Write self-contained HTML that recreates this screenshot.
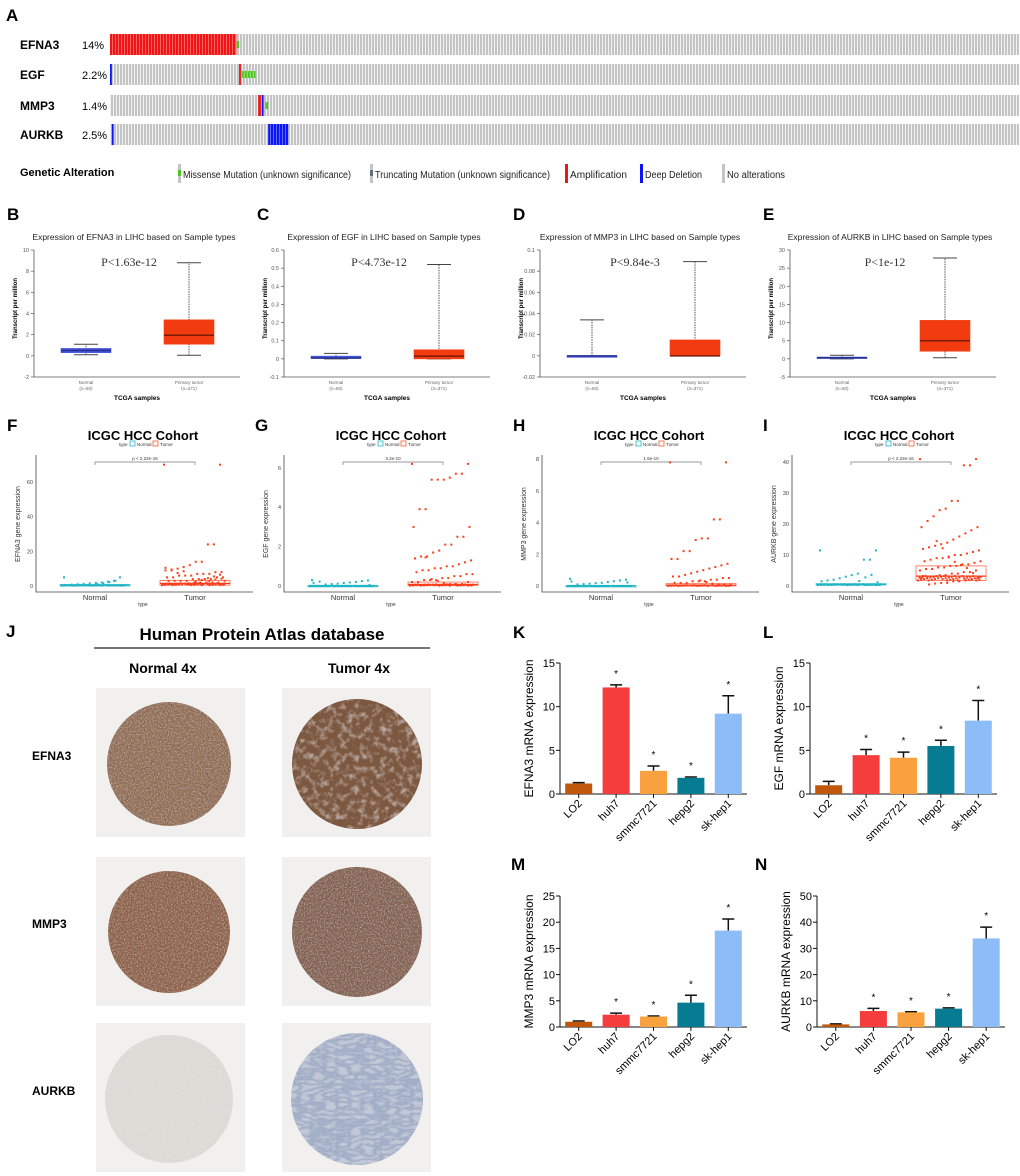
<!DOCTYPE html>
<html><head><meta charset="utf-8"><style>
html,body{margin:0;padding:0;background:#fff;}
svg{display:block;font-family:"Liberation Sans",Arial,sans-serif;}
</style></head><body>
<svg id="fig" width="1020" height="1176" viewBox="0 0 1020 1176" xmlns="http://www.w3.org/2000/svg">
<defs>
<pattern id="stripes" width="3" height="10" patternUnits="userSpaceOnUse"><rect width="2" height="10" fill="#c4c4c4"/><rect x="2" width="1" height="10" fill="#f2f2f2"/></pattern>
<filter id="tex1" x="0" y="0" width="100%" height="100%"><feTurbulence type="fractalNoise" baseFrequency="0.7" numOctaves="2" seed="3"/><feColorMatrix type="matrix" values="0 0 0 0 0.85  0 0 0 0 0.85  0 0 0 0 0.9  0 0 0 -2.2 1.3"/><feComposite in2="SourceGraphic" operator="in"/></filter>
<filter id="tex2" x="0" y="0" width="100%" height="100%"><feTurbulence type="fractalNoise" baseFrequency="0.15" numOctaves="3" seed="8"/><feColorMatrix type="matrix" values="0 0 0 0 0.80  0 0 0 0 0.80  0 0 0 0 0.84  0 0 0 -3 1.6"/><feComposite in2="SourceGraphic" operator="in"/></filter>
<filter id="tex3" x="0" y="0" width="100%" height="100%"><feTurbulence type="turbulence" baseFrequency="0.08 0.2" numOctaves="2" seed="5"/><feColorMatrix type="matrix" values="0 0 0 0 0.25  0 0 0 0 0.32  0 0 0 0 0.50  0 0 0 -3 1.4"/><feComposite in2="SourceGraphic" operator="in"/></filter>
</defs>
</svg>
<script>
const NS='http://www.w3.org/2000/svg';
const svg=document.getElementById('fig');
function mk(tag,attrs,parent,txt){const e=document.createElementNS(NS,tag);for(const k in attrs)e.setAttribute(k,attrs[k]);if(txt!==undefined)e.textContent=txt;(parent||svg).appendChild(e);return e;}

// ---------- Panel A data ----------
const aGenes=['EFNA3','EGF','MMP3','AURKB'];
const aPct=['14%','2.2%','1.4%','2.5%'];
const aAltEFNA3=[[0,0.139,'amp'],[0.1395,0.142,'mis']];
const aAltEGF=[[0,0.002,'del'],[0.142,0.144,'amp'],[0.145,0.16,'mis']];
const aAltMMP3=[[0.163,0.166,'amp'],[0.167,0.169,'del'],[0.171,0.174,'mis']];
const aAltAURKB=[[0.002,0.004,'del'],[0.174,0.196,'del']];
const aAlts=[aAltEFNA3,aAltEGF,aAltMMP3,aAltAURKB];

// ---------- Panels B-E data ----------
const bxTitles=['EFNA3','EGF','MMP3','AURKB'];
const bxP=['P<1.63e-12','P<4.73e-12','P<9.84e-3','P<1e-12'];
const bxTicks=[[-2,0,2,4,6,8,10],[-0.1,0,0.1,0.2,0.3,0.4,0.5,0.6],[-0.02,0,0.02,0.04,0.06,0.08,0.1],[-5,0,5,10,15,20,25,30]];
const bxNormal=[[0.1,0.3,0.5,0.7,1.1],[0,0.002,0.005,0.015,0.03],[0,0,0,0,0.034],[0,0.2,0.3,0.5,1.0]];
const bxTumor=[[0.05,1.1,1.95,3.4,8.8],[0,0,0.015,0.05,0.52],[0,0,0,0.015,0.089],[0.3,2.1,5.0,10.6,27.8]];

// ---------- Panels F-I data ----------
const icGenes=['EFNA3','EGF','MMP3','AURKB'];
const icTicks=[[0,20,40,60],[0,2,4,6],[0,2,4,6,8],[0,10,20,30,40]];
const icMax=[75,6.6,8.2,42];
const icPlab=['p < 2.22e-16','3.2e-10','1.5e-10','p < 2.22e-16'];
const icNormBox=[[0.2,0.5,0.9],[0,0.01,0.03],[0,0.01,0.03],[0.3,0.5,0.8]];
const icTumBox=[[0.5,1.5,3.2],[0.02,0.08,0.2],[0.01,0.05,0.15],[1.8,3.2,6.5]];
const icNormPts=[[5,5,3,2.5,2,1.8,1.5,1.2,1,0.8,0.6,0.5,3,2.2,1.6,1.1],[0.3,0.28,0.25,0.2,0.18,0.15,0.12,0.1,0.08,0.22,0.16,0.05],[0.45,0.4,0.35,0.3,0.25,0.2,0.18,0.15,0.12,0.1,0.28,0.22],[11.5,11.5,8.5,8.5,4,3.5,3,2.5,2,1.8,1.5,1.2,3.6,2.8,1.6]];
const icTumPts=[
 [70,70,24,24,14,14,12,11,10,9,9,8,8,7,7,7,6,6,6,5,5,5,5,4,4,4,4,3,3,3,3,3,2,2,2,2,2,1,1,1,1,1,6.5,5.5,4.5,3.5,2.5,1.5,8.5,7.5,9.5,10.5,4.2,3.8,2.8],
 [6.2,6.2,5.7,5.7,5.5,5.4,5.4,5.4,3.9,3.9,3,3,2.5,2.5,2.1,2.1,1.8,1.7,1.5,1.5,1.4,1.3,1.2,1.1,1,1,0.9,0.9,0.8,0.8,0.7,0.6,0.6,0.5,0.5,0.4,0.4,0.3,0.3,0.3,0.2,0.2,0.2,0.1,0.1,0.1,0.15,0.25,0.35,1.45],
 [7.8,7.8,4.2,4.2,3.0,3.0,2.9,2.2,2.2,1.7,1.7,1.4,1.3,1.2,1.1,1.0,0.9,0.8,0.7,0.6,0.6,0.5,0.5,0.4,0.4,0.3,0.3,0.3,0.2,0.2,0.2,0.1,0.1,0.1,0.15,0.25,0.35],
 [41,41,39,39,27.5,27.5,25,24.5,22.5,21,19,19,18,17,16,15,14,13.5,13,12.5,12,11.5,11,10.5,10,10,9.5,9,9,8.5,8,8,7.5,7,7,6.5,6.5,6,6,5.5,5.5,5,5,4.5,4.5,4,4,3.5,3.5,3,3,2.5,2.5,2,2,1.5,1.5,1,1,0.8,0.5,3.2,2.8,4.2,5.8,6.8,7.8,9.2,12.2,14.5]
];

// ---------- Panels K-N data ----------
const barCats=['LO2','huh7','smmc7721','hepg2','sk-hep1'];
const barColors=['#c0580b','#f53d3d','#f9a03f','#077b91','#8dbdf7'];
const kVals=[1.2,12.2,2.65,1.85,9.2];
const kErr=[0.1,0.3,0.55,0.1,2.05];
const lVals=[1.0,4.45,4.15,5.5,8.4];
const lErr=[0.45,0.65,0.65,0.65,2.3];
const mVals=[1.0,2.35,2.0,4.65,18.4];
const mErr=[0.15,0.3,0.1,1.4,2.2];
const nVals=[1.0,6.1,5.6,7.0,33.8];
const nErr=[0.2,1.0,0.2,0.3,4.3];
const barGenes=['EFNA3','EGF','MMP3','AURKB'];
const barTicks=[[0,5,10,15],[0,5,10,15],[0,5,10,15,20,25],[0,10,20,30,40,50]];

function letter(t,x,y){const e=mk('text',{x:x,y:y,'font-size':17,'font-weight':'bold'},svg,t);}

// ===== Panel A =====
letter('A',6,21);
const aRowY=[34,64,95,124];const aX0=110,aX1=1019,aH=21;
aGenes.forEach((g,i)=>{
 const y=aRowY[i];
 const t=mk('text',{x:20,y:y+15,'font-size':12,'font-weight':'bold'},svg,g);
 const p=mk('text',{x:82,y:y+15,'font-size':11},svg,aPct[i]);
 const r=mk('rect',{x:aX0,y:y,width:aX1-aX0,height:aH,fill:'url(#stripes)'});
 aAlts[i].forEach(s=>{
  const x0=aX0+s[0]*(aX1-aX0),w=Math.max(1.5,(s[1]-s[0])*(aX1-aX0));
  const col=s[2]==='amp'?'#f01414':s[2]==='del'?'#0a14f5':'#4ec521';
  const yy=s[2]==='mis'?y+aH/3:y,hh=s[2]==='mis'?aH/3:aH;
  const m=mk('rect',{x:x0,y:yy,width:w,height:hh,fill:col});
  if(w>10){for(let xx=x0+2;xx<x0+w;xx+=3){const l=mk('rect',{x:xx,y:yy,width:0.8,height:hh,fill:s[2]==='amp'?'#f57a7a':s[2]==='del'?'#7a80f5':'#b8e8a0'});}}
 });
});
(function(){
 const t=mk('text',{x:20,y:176,'font-size':11,'font-weight':'bold'},svg,'Genetic Alteration');
 const items=[[178,'#4ec521',true,'Missense Mutation (unknown significance)',168],[370,'#5e7080',true,'Truncating Mutation (unknown significance)',175],[565,'#f01414',false,'Amplification',57],[640,'#0a14f5',false,'Deep Deletion',57],[722,'#c4c4c4',false,'No alterations',58]];
 items.forEach(it=>{
  const bg=mk('rect',{x:it[0],y:164,width:3,height:19,fill:'#c4c4c4'});
  const sw=mk('rect',{x:it[0],y:it[2]?170:164,width:3,height:it[2]?6:19,fill:it[1]});
  const tx=mk('text',{x:it[0]+5,y:178,'font-size':10,fill:'#222',textLength:it[4],lengthAdjust:'spacingAndGlyphs'},svg,it[3]);
 });
})();

// ===== Panels B-E =====
const bxLefts=[34,284,540,790];const bxW=206,bxTop=250,bxBot=377;
['B','C','D','E'].forEach((L,i)=>{
 const x0=bxLefts[i];letter(L,x0-27,220);
 const tk=bxTicks[i];const lo=tk[0],hi=tk[tk.length-1];
 const ys=v=>bxBot-(v-lo)/(hi-lo)*(bxBot-bxTop);
 const g=mk('g',{});
 const tt=mk('text',{x:x0+100,y:240,'font-size':8.5,'text-anchor':'middle',fill:'#222'},g,'Expression of '+bxTitles[i]+' in LIHC based on Sample types');
 const ax=mk('path',{d:`M${x0} ${bxTop}V${bxBot}H${x0+bxW}`,stroke:'#555',fill:'none','stroke-width':0.8},g);
 tk.forEach(v=>{const l=mk('line',{x1:x0-3,x2:x0,y1:ys(v),y2:ys(v),stroke:'#555','stroke-width':0.7},g);
  const t=mk('text',{x:x0-5,y:ys(v)+2,'font-size':5.5,'text-anchor':'end',fill:'#555'},g,String(v));});
 const yl=mk('text',{transform:`translate(${x0-17},${(bxTop+bxBot)/2-5}) rotate(-90)`,'font-size':6,'font-weight':'bold','text-anchor':'middle'},g,'Transcript per million');
 const pv=mk('text',{x:x0+95,y:266,'font-size':12,'font-family':'Liberation Serif,serif','text-anchor':'middle',fill:'#333'},g,bxP[i]);
 [[bxNormal[i],52,'#4756e0','#25308f','Normal','(n=50)'],[bxTumor[i],155,'#f23c10','#7a1a08','Primary tumor','(n=371)']].forEach(b=>{
  const d=b[0],cx=x0+b[1];
  const wh=mk('line',{x1:cx,x2:cx,y1:ys(d[0]),y2:ys(d[4]),stroke:'#555','stroke-dasharray':'1.5,1','stroke-width':1},g);
  [d[0],d[4]].forEach(v=>{const c=mk('line',{x1:cx-12,x2:cx+12,y1:ys(v),y2:ys(v),stroke:'#444','stroke-width':1},g);});
  const bx=mk('rect',{x:cx-25,y:ys(d[3]),width:50,height:Math.max(1.5,ys(d[1])-ys(d[3])),fill:b[2],stroke:b[2],'stroke-width':0.6},g);
  const md=mk('line',{x1:cx-25,x2:cx+25,y1:ys(d[2]),y2:ys(d[2]),stroke:b[3],'stroke-width':1.5},g);
  const xl=mk('text',{x:cx,y:384,'font-size':4.5,'text-anchor':'middle',fill:'#666'},g,b[4]);
  const xn=mk('text',{x:cx,y:390,'font-size':4.5,'text-anchor':'middle',fill:'#666'},g,b[5]);
 });
 const xt=mk('text',{x:x0+103,y:400,'font-size':6.5,'font-weight':'bold','text-anchor':'middle'},g,'TCGA samples');
});

// ===== Panels F-I =====
const icLefts=[36,284,542,792];const icW=217,icZero=586,icTopY=456,icBot=592;
['F','G','H','I'].forEach((L,i)=>{
 const x0=icLefts[i];letter(L,x0-29,431);
 const g=mk('g',{});
 const ys=v=>icZero-v/icMax[i]*(icZero-icTopY);
 const tt=mk('text',{x:x0+107,y:440,'font-size':13,'font-weight':'bold','text-anchor':'middle'},g,'ICGC HCC Cohort');
 const lg=mk('text',{x:x0+83,y:446,'font-size':4.5,fill:'#333'},g,'type');
 [[x0+94,'#1fb5c4','Normal'],[x0+117,'#fb5a2d','Tumor']].forEach(e=>{const r=mk('rect',{x:e[0],y:441,width:5,height:5,fill:'none',stroke:e[1],'stroke-width':0.8},g);
  const t=mk('text',{x:e[0]+7,y:446,'font-size':4.5,fill:'#333'},g,e[2]);});
 const ax=mk('path',{d:`M${x0} ${icTopY-1}V${icBot}H${x0+icW}`,stroke:'#444',fill:'none','stroke-width':0.8},g);
 icTicks[i].forEach(v=>{const t=mk('text',{x:x0-3,y:ys(v)+2,'font-size':5.5,'text-anchor':'end',fill:'#444'},g,String(v));});
 const yl=mk('text',{transform:`translate(${x0-16},${(icTopY+icBot)/2}) rotate(-90)`,'font-size':7,'text-anchor':'middle',fill:'#333'},g,icGenes[i]+' gene expression');
 const nx=x0+59,tx=x0+159;
 const br=mk('path',{d:`M${nx} 465V462H${tx}V465`,stroke:'#777',fill:'none','stroke-width':0.7},g);
 const pl=mk('text',{x:(nx+tx)/2,y:460,'font-size':4.5,'text-anchor':'middle',fill:'#333'},g,icPlab[i]);
 [[nx,icNormBox[i],icNormPts[i],'#1fb5c4','Normal'],[tx,icTumBox[i],icTumPts[i],'#fb3d1a','Tumor']].forEach(s=>{
  const cx=s[0],b=s[1];
  const bx=mk('rect',{x:cx-35,y:ys(b[2]),width:70,height:Math.max(1.5,ys(b[0])-ys(b[2])),fill:'none',stroke:s[3],'stroke-width':0.9,opacity:0.7},g);
  const md=mk('line',{x1:cx-35,x2:cx+35,y1:ys(b[1]),y2:ys(b[1]),stroke:s[3],'stroke-width':1.2},g);
  s[2].forEach((v,j)=>{const off=((j*37)%41)/41-0.5;const c=mk('rect',{x:cx+off*62-1,y:ys(v)-1,width:2,height:2,fill:s[3]},g);});
  for(let k=0;k<40;k++){const off=((k*29)%43)/43-0.5;const c=mk('rect',{x:cx+off*66-1,y:ys(b[0]+(b[1]-b[0])*((k*13)%7)/6)-1,width:2,height:2,fill:s[3]},g);}
  const xl=mk('text',{x:cx,y:600,'font-size':7.5,'text-anchor':'middle',fill:'#333'},g,s[4]);
 });
 const xt=mk('text',{x:x0+107,y:606,'font-size':5,'text-anchor':'middle',fill:'#333'},g,'type');
});

// ===== Panel J =====
letter('J',6,637);
(function(){
 const h=mk('text',{x:262,y:640,'font-size':17,'font-weight':'bold','text-anchor':'middle'},svg,'Human Protein Atlas database');
 const ln=mk('line',{x1:94,x2:430,y1:648,y2:648,stroke:'#222','stroke-width':1.2});
 const n=mk('text',{x:163,y:673,'font-size':14,'font-weight':'bold','text-anchor':'middle'},svg,'Normal  4x');
 const t=mk('text',{x:359,y:673,'font-size':14,'font-weight':'bold','text-anchor':'middle'},svg,'Tumor  4x');
 // label, boxTop, circleY, normalFill, tumorFill, normalTex, tumorTex, normal r, tumor r
 const rows=[['EFNA3',688,764,'#8d6a52','#7d5840','tex1','tex2',62,65],['MMP3',857,932,'#8a5e46','#7f5e4e','tex1','tex1',61,65],['AURKB',1023,1099,'#dcd8d2','#c2c8d6','tex1','tex3',64,66]];
 rows.forEach(r=>{
  const lab=mk('text',{x:32,y:r[2]-4,'font-size':12,'font-weight':'bold'},svg,r[0]);
  [[96,169,r[3],'normal',r[5],r[7]],[282,357,r[4],'tumor',r[6],r[8]]].forEach(c=>{
   const bg=mk('rect',{x:c[0],y:r[1],width:149,height:149,fill:'#f1f0ef'});
   const cir=mk('circle',{cx:c[1],cy:r[2],r:c[5],fill:c[2]});
   const tx=mk('circle',{cx:c[1],cy:r[2],r:c[5],fill:'#000',filter:'url(#'+c[4]+')',opacity:0.55});
  });
 });
})();

// ===== Panels K-N =====
const barPanels=[
 {L:'K',lx:513,ly:638,x0:560,x1:747,top:663,zero:794,vals:kVals,err:kErr},
 {L:'L',lx:763,ly:638,x0:810,x1:997,top:663,zero:794,vals:lVals,err:lErr},
 {L:'M',lx:511,ly:870,x0:560,x1:747,top:896,zero:1027,vals:mVals,err:mErr},
 {L:'N',lx:755,ly:870,x0:817,x1:1005,top:896,zero:1027,vals:nVals,err:nErr}];
barPanels.forEach((p,i)=>{
 letter(p.L,p.lx,p.ly);
 const g=mk('g',{});
 const tk=barTicks[i],hi=tk[tk.length-1];
 const ys=v=>p.zero-v/hi*(p.zero-p.top);
 const step=(p.x1-p.x0)/5;const xc=j=>p.x0+step*(j+0.5);
 const ax=mk('path',{d:`M${p.x0} ${p.top}V${p.zero}H${p.x1}`,stroke:'#111',fill:'none','stroke-width':1},g);
 tk.forEach(v=>{const l=mk('line',{x1:p.x0-4,x2:p.x0,y1:ys(v),y2:ys(v),stroke:'#111'},g);
  const t=mk('text',{x:p.x0-5,y:ys(v)+4,'font-size':11,'text-anchor':'end'},g,String(v));});
 const yl=mk('text',{transform:`translate(${p.x0-27},${(p.top+p.zero)/2}) rotate(-90)`,'font-size':12,'text-anchor':'middle'},g,barGenes[i]+' mRNA expression');
 p.vals.forEach((v,j)=>{
  const cx=xc(j),e=p.err[j];
  const el=mk('path',{d:`M${cx} ${ys(v)}V${ys(v+e)}M${cx-6} ${ys(v+e)}H${cx+6}`,stroke:'#111','stroke-width':1.5,fill:'none'},g);
  const r=mk('rect',{x:cx-13.5,y:ys(v),width:27,height:p.zero-ys(v),fill:barColors[j]},g);
  const tkx=mk('line',{x1:cx,x2:cx,y1:p.zero,y2:p.zero+4,stroke:'#111'},g);
  if(j>0){const s=mk('text',{x:cx,y:ys(v+e)-8,'font-size':10,'text-anchor':'middle'},g,'*');}
  const xl=mk('text',{transform:`translate(${cx+4},${p.zero+10}) rotate(-45)`,'font-size':11,'text-anchor':'end'},g,barCats[j]);
 });
});
</script>
</body></html>
